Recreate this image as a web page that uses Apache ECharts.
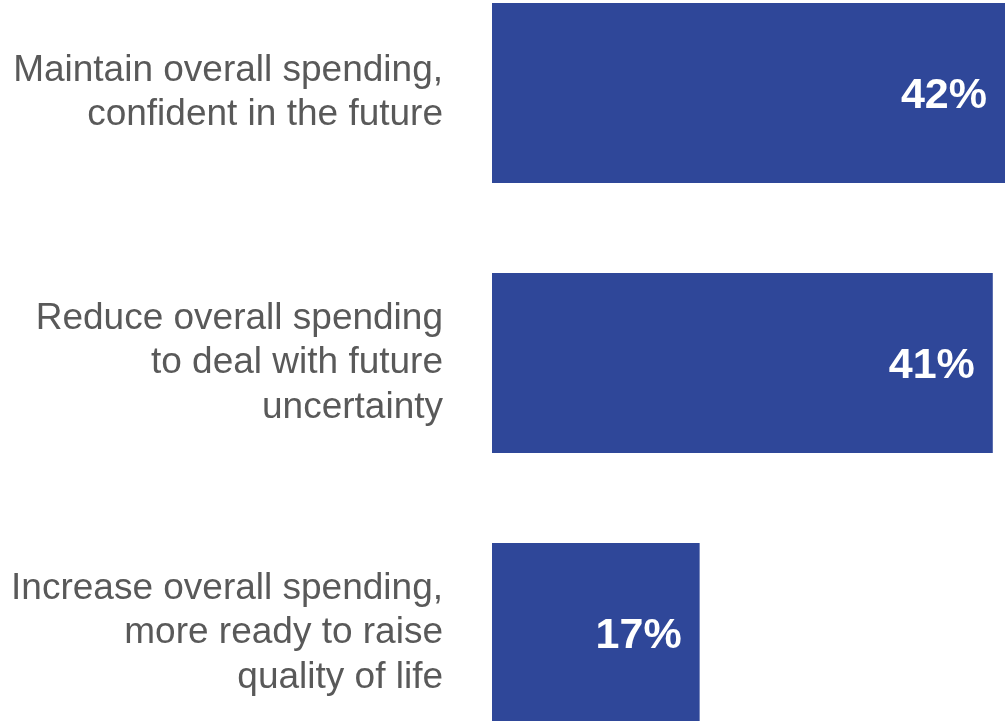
<!DOCTYPE html>
<html>
<head>
<meta charset="utf-8">
<script src="https://cdn.jsdelivr.net/npm/echarts@6/dist/echarts.min.js"></script>
<style>
  html, body { margin: 0; padding: 0; background: #ffffff; overflow: hidden; }
  /* The plot is taller than the window so the outer bars run flush to its edges */
  #chart { width: 1005px; height: 810px; position: relative; top: -42px; }
</style>
</head>
<body>
<div id="chart"></div>
<script>
// Spending intentions, share of respondents (%)
const categories = [
  'Maintain overall spending,\nconfident in the future',
  'Reduce overall spending\nto deal with future\nuncertainty',
  'Increase overall spending,\nmore ready to raise\nquality of life'
];
const shares = [42, 41, 17];

const chart = echarts.init(document.getElementById('chart'));
chart.setOption({
  animation: false,
  backgroundColor: '#ffffff',
  grid: { left: 492, right: 0, top: 0, bottom: 0, containLabel: false },
  xAxis: {
    type: 'value',
    min: 0,
    max: 42,
    show: false
  },
  yAxis: {
    type: 'category',
    inverse: true,
    data: categories,
    axisLine: { show: false },
    axisTick: { show: false },
    splitLine: { show: false },
    axisLabel: {
      margin: 49,
      align: 'right',
      fontFamily: 'Liberation Sans, Arial, sans-serif',
      fontSize: 37,
      lineHeight: 44.5,
      padding: [4, 0, 0, 0],
      color: '#595959'
    }
  },
  series: [{
    type: 'bar',
    data: shares,
    barCategoryGap: '33.3%',
    itemStyle: { color: '#2f4799' },
    label: {
      show: true,
      position: 'insideRight',
      distance: 18,
      offset: [0, 3],
      formatter: '{c}%',
      color: '#ffffff',
      fontFamily: 'Liberation Sans, Arial, sans-serif',
      fontWeight: 'bold',
      fontSize: 43
    }
  }]
});
</script>
</body>
</html>
